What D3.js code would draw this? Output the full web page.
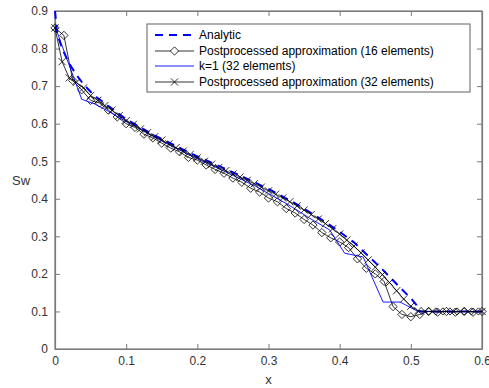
<!DOCTYPE html>
<html>
<head>
<meta charset="utf-8">
<script src="https://cdn.jsdelivr.net/npm/d3@7"></script>
<style>
  body { margin: 0; background: #fff; }
  svg { display: block; font-family: "Liberation Sans", Arial, sans-serif; }
</style>
</head>
<body>
<div id="chart"></div>
<script>
// analytic solution (x, Sw)
const analyticX = [0, 0.003, 0.01, 0.02, 0.03, 0.04, 0.05, 0.06, 0.08, 0.10, 0.12, 0.14, 0.16, 0.18, 0.20,
  0.22, 0.24, 0.26, 0.28, 0.30, 0.32, 0.34, 0.36, 0.38, 0.40, 0.42, 0.44, 0.46, 0.48, 0.50, 0.508, 0.512, 0.6];
const analyticY = [0.9, 0.84, 0.80, 0.76, 0.73, 0.705, 0.685, 0.668, 0.64, 0.612, 0.59, 0.569, 0.55, 0.531, 0.513,
  0.496, 0.479, 0.462, 0.444, 0.426, 0.406, 0.385, 0.362, 0.338, 0.312, 0.284, 0.248, 0.212, 0.173, 0.135, 0.117, 0.1, 0.1];

// postprocessed, 16 elements (diamonds)
const post16X = [0, 0.0125, 0.025, 0.0375, 0.05, 0.0625, 0.075, 0.0875, 0.1, 0.1125, 0.125, 0.1375, 0.15,
  0.1625, 0.175, 0.1875, 0.2, 0.2125, 0.225, 0.2375, 0.25, 0.2625, 0.275, 0.2875, 0.3, 0.3125, 0.325,
  0.3375, 0.35, 0.3625, 0.375, 0.3875, 0.4, 0.4125, 0.425, 0.4375, 0.45, 0.4625, 0.475, 0.4875, 0.5,
  0.5125, 0.525, 0.5375, 0.55, 0.5625, 0.575, 0.5875, 0.6];
const post16Y = [0.855, 0.835, 0.715, 0.69, 0.662, 0.655, 0.636, 0.618, 0.600, 0.590, 0.572, 0.562, 0.548,
  0.535, 0.525, 0.51, 0.503, 0.49, 0.478, 0.468, 0.455, 0.444, 0.428, 0.418, 0.402, 0.392, 0.374,
  0.362, 0.345, 0.33, 0.31, 0.296, 0.285, 0.27, 0.24, 0.215, 0.2, 0.18, 0.113, 0.092, 0.086,
  0.092, 0.1, 0.098, 0.1, 0.098, 0.1, 0.098, 0.1];

// k=1, 32 elements (thin blue)
const k1X = [0, 0.0094, 0.0375, 0.0563, 0.075, 0.0938, 0.1125, 0.1313, 0.15, 0.1688, 0.1875, 0.2063, 0.225,
  0.2438, 0.2625, 0.2813, 0.30, 0.3188, 0.3375, 0.3563, 0.386, 0.407, 0.433, 0.461, 0.485, 0.51, 0.6];
const k1Y = [0.86, 0.81, 0.665, 0.652, 0.633, 0.612, 0.593, 0.573, 0.554, 0.536, 0.518, 0.501, 0.485,
  0.468, 0.451, 0.434, 0.414, 0.394, 0.373, 0.35, 0.317, 0.255, 0.245, 0.125, 0.125, 0.1, 0.1];

// postprocessed, 32 elements (x marks)
const post32X = [0, 0.01, 0.02, 0.03, 0.04, 0.05, 0.06, 0.07, 0.08, 0.09, 0.10, 0.11, 0.12, 0.13, 0.14, 0.15,
  0.16, 0.17, 0.18, 0.19, 0.20, 0.21, 0.22, 0.23, 0.24, 0.25, 0.26, 0.27, 0.28, 0.29, 0.30, 0.31, 0.32,
  0.33, 0.34, 0.35, 0.36, 0.37, 0.38, 0.39, 0.40, 0.41, 0.42, 0.43, 0.44, 0.45, 0.46, 0.47, 0.48, 0.49,
  0.50, 0.51, 0.52, 0.53, 0.54, 0.55, 0.56, 0.57, 0.58, 0.59, 0.60];
const post32Y = [0.855, 0.765, 0.722, 0.71, 0.695, 0.675, 0.662, 0.648, 0.636, 0.621, 0.608, 0.598, 0.586,
  0.576, 0.565, 0.556, 0.546, 0.536, 0.527, 0.518, 0.509, 0.5, 0.492, 0.483, 0.475, 0.466, 0.458, 0.449,
  0.44, 0.431, 0.421, 0.412, 0.402, 0.392, 0.381, 0.37, 0.358, 0.346, 0.334, 0.32, 0.306, 0.29, 0.274,
  0.256, 0.237, 0.218, 0.198, 0.177, 0.155, 0.133, 0.114, 0.102, 0.1, 0.1, 0.1, 0.1, 0.1, 0.1, 0.1, 0.1, 0.1];

const xTicks = [0, 0.1, 0.2, 0.3, 0.4, 0.5, 0.6];
const yTicks = [0, 0.1, 0.2, 0.3, 0.4, 0.5, 0.6, 0.7, 0.8, 0.9];
const legendLabels = ["Analytic", "Postprocessed approximation (16 elements)", "k=1 (32 elements)",
  "Postprocessed approximation (32 elements)"];

const width = 489, height = 388;
const margin = {left: 55, right: 7, top: 11, bottom: 39};

const svg = d3.select("#chart").append("svg")
  .attr("width", width).attr("height", height);

const x = d3.scaleLinear().domain([0, 0.6]).range([margin.left, width - margin.right]);
const y = d3.scaleLinear().domain([0, 0.9]).range([height - margin.bottom, margin.top]);

const axisColor = "#7a7a7a";
const textColor = "#333";

// box
svg.append("rect")
  .attr("x", x(0)).attr("y", y(0.9))
  .attr("width", x(0.6) - x(0)).attr("height", y(0) - y(0.9))
  .attr("fill", "none").attr("stroke", axisColor).attr("stroke-width", 1.2);

// axes with inward ticks
const gx = svg.append("g").attr("transform", `translate(0,${y(0)})`)
  .call(d3.axisBottom(x).tickValues(xTicks).tickSizeInner(-5).tickSizeOuter(0).tickPadding(7)
    .tickFormat(d => d === 0 ? "0" : d3.format(".1f")(d)));
const gxTop = svg.append("g").attr("transform", `translate(0,${y(0.9)})`)
  .call(d3.axisTop(x).tickValues(xTicks).tickSizeInner(-5).tickSizeOuter(0).tickFormat(""));
const gy = svg.append("g").attr("transform", `translate(${x(0)},0)`)
  .call(d3.axisLeft(y).tickValues(yTicks).tickSizeInner(-5).tickSizeOuter(0).tickPadding(7)
    .tickFormat(d => d === 0 ? "0" : d3.format(".1f")(d)));
const gyRight = svg.append("g").attr("transform", `translate(${x(0.6)},0)`)
  .call(d3.axisRight(y).tickValues(yTicks).tickSizeInner(-5).tickSizeOuter(0).tickFormat(""));

[gx, gxTop, gy, gyRight].forEach(function (g) {
  g.select(".domain").attr("stroke", axisColor).attr("stroke-width", 1.2);
  g.selectAll(".tick line").attr("stroke", axisColor);
  g.selectAll(".tick text").attr("fill", textColor).attr("font-size", 12)
    .attr("font-family", "Liberation Sans, Arial, sans-serif");
});

// axis labels
svg.append("text").attr("x", (x(0) + x(0.6)) / 2).attr("y", 384)
  .attr("text-anchor", "middle").attr("font-size", 13).attr("fill", textColor).text("x");
svg.append("text").attr("x", 21).attr("y", y(0.45) + 5)
  .attr("text-anchor", "middle").attr("font-size", 13).attr("fill", textColor).text("Sw");

const line = d3.line().x(d => x(d[0])).y(d => y(d[1]));
const zip = (a, b) => a.map((v, i) => [v, b[i]]);

const analytic = zip(analyticX, analyticY);
const post16 = zip(post16X, post16Y);
const k1 = zip(k1X, k1Y);
const post32 = zip(post32X, post32Y);

const plot = svg.append("g");

// 16 elements line + diamonds
plot.append("path").datum(post16).attr("d", line)
  .attr("fill", "none").attr("stroke", "#000").attr("stroke-width", 0.8);
const diamond = d3.symbol().type(d3.symbolDiamond2).size(44);
plot.selectAll(".dia").data(post16).join("path")
  .attr("class", "dia")
  .attr("d", diamond)
  .attr("transform", d => `translate(${x(d[0])},${y(d[1])})`)
  .attr("fill", "none").attr("stroke", "#000").attr("stroke-width", 0.8);

// k=1 thin blue
plot.append("path").datum(k1).attr("d", line)
  .attr("fill", "none").attr("stroke", "#0000ff").attr("stroke-width", 0.9);

// analytic dashed
plot.append("path").datum(analytic).attr("d", line)
  .attr("fill", "none").attr("stroke", "#0000ff").attr("stroke-width", 2)
  .attr("stroke-dasharray", "8,6");

// 32 elements line + x marks
plot.append("path").datum(post32).attr("d", line)
  .attr("fill", "none").attr("stroke", "#000").attr("stroke-width", 0.8);
const cross = d3.symbol().type(d3.symbolTimes).size(36);
plot.selectAll(".crs").data(post32).join("path")
  .attr("class", "crs")
  .attr("d", cross)
  .attr("transform", d => `translate(${x(d[0])},${y(d[1])})`)
  .attr("fill", "none").attr("stroke", "#000").attr("stroke-width", 0.8);

// legend
const lg = svg.append("g");
lg.append("rect").attr("x", 147).attr("y", 24).attr("width", 323).attr("height", 68)
  .attr("fill", "#fff").attr("stroke", axisColor).attr("stroke-width", 1.2);
const rowY = [35, 51, 66, 82];
legendLabels.forEach(function (label, i) {
  const ly = rowY[i];
  const ln = lg.append("line").attr("x1", 155).attr("x2", 194).attr("y1", ly).attr("y2", ly);
  if (i === 0) {
    ln.attr("stroke", "#0000ff").attr("stroke-width", 2).attr("stroke-dasharray", "8,6");
  } else if (i === 2) {
    ln.attr("stroke", "#0000ff").attr("stroke-width", 0.9);
  } else {
    ln.attr("stroke", "#000").attr("stroke-width", 0.8);
    lg.append("path").attr("d", i === 1 ? diamond() : cross())
      .attr("transform", `translate(174.5,${ly})`)
      .attr("fill", i === 1 ? "#fff" : "none").attr("stroke", "#000").attr("stroke-width", 0.8);
  }
  lg.append("text").attr("x", 199).attr("y", ly + 4).attr("font-size", 12)
    .attr("fill", "#000").text(label);
});
</script>
</body>
</html>
